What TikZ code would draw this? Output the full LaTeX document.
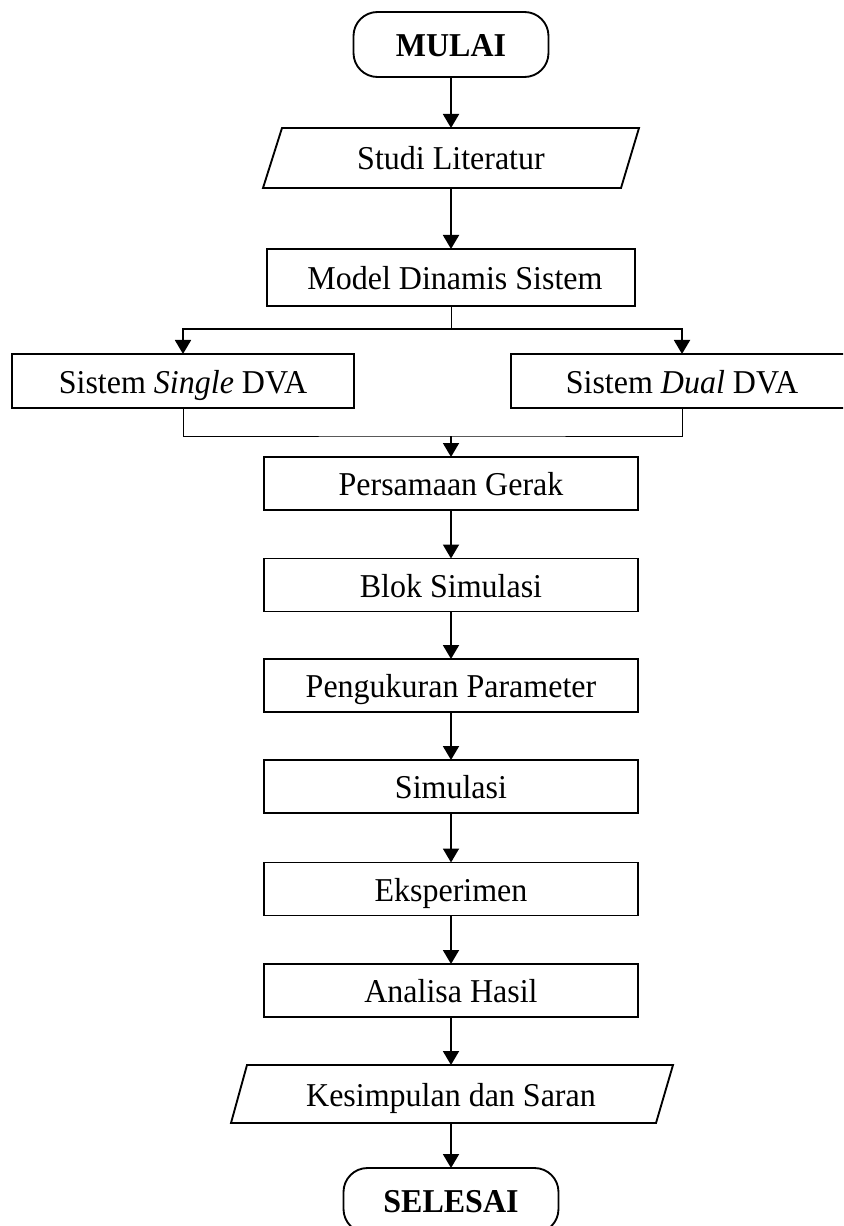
\documentclass[tikz,border=0pt]{standalone}
\usepackage{fontspec}
\setmainfont[FakeStretch=0.96]{Liberation Serif}
\usetikzlibrary{arrows.meta}
\begin{document}
\begin{tikzpicture}[x=0.75pt,y=-0.75pt,
  every node/.style={inner sep=0pt, outer sep=0pt,
    font=\fontsize{25}{29}\selectfont, text height=18pt, text depth=0pt},
  process/.style={draw, line width=1.4pt, minimum width=280.5pt, minimum height=39.75pt},
  branch/.style={draw, line width=1.4pt, minimum width=256.5pt, minimum height=40.5pt},
  terminal/.style={draw, line width=1.4pt, rounded corners=18pt, minimum height=48.75pt,
    font=\fontsize{25}{29}\selectfont\bfseries},
  flow/.style={line width=1.4pt, -{Triangle[width=12pt,length=10.5pt]}},
  joint/.style={line width=0.75pt},
  outline/.style={line width=1.4pt, line join=miter}
]
\useasboundingbox (0,0) rectangle (843,1226);
\clip (0,0) rectangle (843,1226);

% start
\node[terminal, minimum width=146.25pt] (mulai) at (451,44.5) {MULAI};

% input: literature study
\draw[outline] (282,128) -- (639,128) -- (621,188) -- (263,188) -- cycle;
\node[minimum width=250pt, minimum height=45pt] (studi) at (451,158) {Studi Literatur};

% system model
\node[draw, line width=1.4pt, minimum width=276pt, minimum height=42.75pt] (model) at (451,277.5) {\hspace{6pt}Model Dinamis Sistem};

% two variants
\node[branch] (single) at (183,381) {Sistem \textit{Single} DVA\hspace{18pt}};
\node[branch] (dual) at (682,381) {Sistem \textit{Dual} DVA};
\coordinate (split) at (451,329);
\coordinate (merge) at (451,436);

% main chain
\node[process] (gerak) at (451,483.5) {Persamaan Gerak};
\node[process] (blok) at (451,585) {Blok Simulasi};
\node[process] (ukur) at (451,685.5) {Pengukuran Parameter};
\node[process] (simul) at (451,786.5) {Simulasi};
\node[process] (eksp) at (451,889) {Eksperimen};
\node[process] (analisa) at (451,990.5) {Analisa Hasil};

% output: conclusion
\draw[outline] (247,1065) -- (673,1065) -- (656,1123) -- (231,1123) -- cycle;
\node[minimum width=300pt, minimum height=43.5pt] (simpul) at (451,1094) {Kesimpulan dan Saran};

% end
\node[terminal, minimum width=161.25pt] (selesai) at (451,1200.5) {SELESAI};

% connectors
\draw[flow] (mulai.south) -- (studi.north);
\draw[flow] (studi.south) -- (model.north);
\draw[joint] (model.south) -- (split);
\draw[flow] (split) -| (single.north);
\draw[flow] (split) -| (dual.north);
\draw[joint] (single.south) |- (merge) -| (dual.south);
\draw[flow] (merge) -- (gerak.north);
\draw[flow] (gerak.south) -- (blok.north);
\draw[flow] (blok.south) -- (ukur.north);
\draw[flow] (ukur.south) -- (simul.north);
\draw[flow] (simul.south) -- (eksp.north);
\draw[flow] (eksp.south) -- (analisa.north);
\draw[flow] (analisa.south) -- (simpul.north);
\draw[flow] (simpul.south) -- (selesai.north);
\end{tikzpicture}
\end{document}
